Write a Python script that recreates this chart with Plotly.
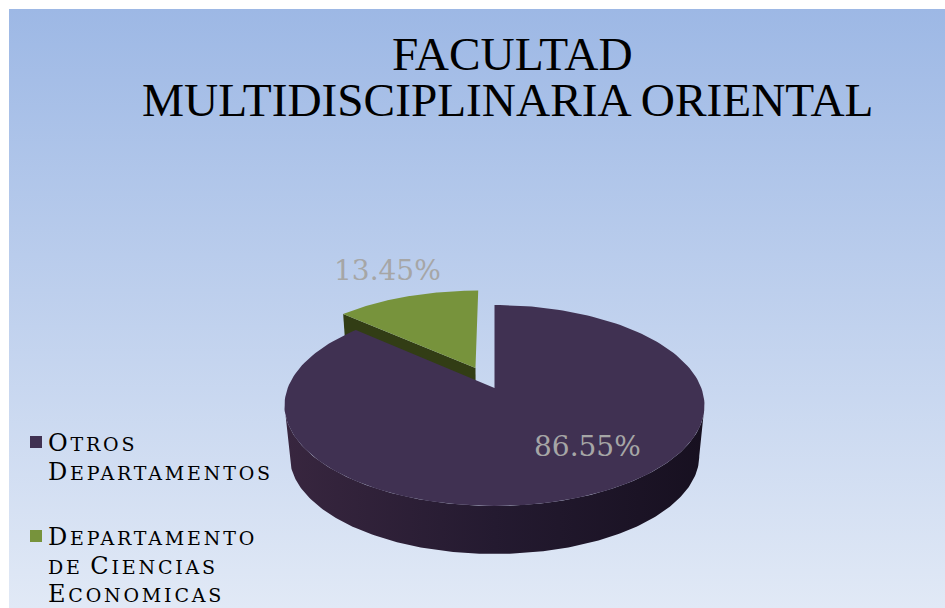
import numpy as np
import plotly.graph_objects as go

# data
departments = ["Otros Departamentos", "Departamento de Ciencias Economicas"]
shares = [86.55, 13.45]
legend_lines = [["Otros", "Departamentos"], ["Departamento", "de Ciencias", "Economicas"]]
title_lines = ["FACULTAD", "MULTIDISCIPLINARIA ORIENTAL"]

# pie drawn in page pixels, with a perspective tilt
PIE_X, PIE_Y = 494.5, 388
RADIUS_X, RADIUS_Y = 206.8, 97.4
TILT = 0.174
DEPTH = 51
BOTTOM_SCALE = 0.975
EXPLODE = 0.2325

PURPLE = "#403152"
GREEN = "#77933c"
GREEN_SIDE = "#323d15"
LABEL_GREY = "#a6a6a6"
SERIF = "DejaVu Serif"


def project(u, v, bottom=False):
    x = RADIUS_X * u / (1 - TILT * v)
    y = RADIUS_Y * v / (1 - TILT * v)
    if bottom:
        return PIE_X + BOTTOM_SCALE * x, PIE_Y + DEPTH + BOTTOM_SCALE * y
    return PIE_X + x, PIE_Y + y


def rim(start, end, offset=(0, 0), bottom=False):
    # angles in degrees clockwise from the top of the pie
    theta = np.radians(np.linspace(start, end, 181))
    return project(np.sin(theta) + offset[0], -np.cos(theta) + offset[1], bottom)


main_end = shares[0] * 3.6
mid_green = np.radians((main_end + 360) / 2)
green_offset = (EXPLODE * np.sin(mid_green), -EXPLODE * np.cos(mid_green))

fig = go.Figure()

# page background
fig.add_trace(go.Scatter(
    x=[9, 945, 945, 9, 9], y=[9, 9, 608, 608, 9],
    mode="lines", line_width=0, fill="toself",
    fillgradient=dict(type="vertical", colorscale=[[0, "#e1e9f6"], [1, "#9db8e5"]]),
    hoverinfo="skip", showlegend=False,
))

# exploded green slice, behind the big one
ax, ay = project(*green_offset)
lx, ly = project(np.sin(np.radians(main_end)) + green_offset[0], -np.cos(np.radians(main_end)) + green_offset[1])
abx, aby = project(*green_offset, bottom=True)
lbx, lby = project(np.sin(np.radians(main_end)) + green_offset[0], -np.cos(np.radians(main_end)) + green_offset[1], bottom=True)
fig.add_trace(go.Scatter(
    x=[ax, lx, lbx, abx, ax], y=[ay, ly, lby, aby, ay],
    mode="lines", line_width=0, fill="toself", fillcolor=GREEN_SIDE,
    hoverinfo="skip", showlegend=False,
))
gx, gy = rim(main_end, 360, green_offset)
fig.add_trace(go.Scatter(
    x=[ax, *gx, ax], y=[ay, *gy, ay],
    mode="lines", line_width=0, fill="toself", fillcolor=GREEN,
    name=departments[1], showlegend=False,
))

# big slice: side wall then top
tx, ty = rim(100, 260)
bx, by = rim(100, 260, bottom=True)
fig.add_trace(go.Scatter(
    x=[*tx, *bx[::-1], tx[0]], y=[*ty, *by[::-1], ty[0]],
    mode="lines", line_width=0, fill="toself",
    fillgradient=dict(type="horizontal", colorscale=[[0, "#38263f"], [0.5, "#241a30"], [1, "#171020"]]),
    hoverinfo="skip", showlegend=False,
))
mx, my = rim(0, main_end)
fig.add_trace(go.Scatter(
    x=[PIE_X, *mx, PIE_X], y=[PIE_Y, *my, PIE_Y],
    mode="lines", line_width=0, fill="toself", fillcolor=PURPLE,
    name=departments[0], showlegend=False,
))

# legend squares
fig.add_trace(go.Scatter(
    x=[36, 36], y=[442, 536], mode="markers",
    marker=dict(symbol="square", size=12, color=[PURPLE, GREEN]),
    hoverinfo="skip", showlegend=False,
))

annotations = []


def add_text(text, x, y, size, color="#000000", family=SERIF, anchor="center", textcase="normal"):
    annotations.append(dict(
        x=x, y=y, xref="x", yref="y", text=text, showarrow=False,
        xanchor=anchor, yanchor="middle",
        font=dict(family=family, size=size, color=color, textcase=textcase),
    ))


def small_caps(line, spacing=2.8, small=19):
    # first letter of a capitalised word stays full size, as in the legend
    words = []
    for word in line.split(" "):
        head = word[0] if word[0].isupper() else ""
        tail = word[len(head):]
        part = f'<span style="letter-spacing:{spacing}px;font-size:{small}px">{tail}</span>'
        if head:
            part = f'<span style="letter-spacing:{spacing}px">{head}</span>' + part
        words.append(part)
    return " ".join(words)


add_text(title_lines[0], 512.5, 54, 47.3, family="Liberation Serif")
add_text(title_lines[1], 507.5, 100, 47.3, family="Liberation Serif")
add_text(f"{shares[0]:.2f}%", 587, 446, 28, LABEL_GREY)
add_text(f"{shares[1]:.2f}%", 387, 270, 28, LABEL_GREY)

legend_y = [[443, 472], [537, 566, 594]]
for lines, rows in zip(legend_lines, legend_y):
    for line, row in zip(lines, rows):
        add_text(small_caps(line), 46, row, 24, anchor="left", textcase="upper")

fig.update_layout(
    width=945,
    height=608,
    margin=dict(l=0, r=0, t=0, b=0),
    paper_bgcolor="white",
    plot_bgcolor="rgba(0,0,0,0)",
    showlegend=False,
    annotations=annotations,
)
fig.update_xaxes(visible=False, range=[0, 945], fixedrange=True)
fig.update_yaxes(visible=False, range=[608, 0], fixedrange=True)

# page margin would push the fixed size figure off by 8px
fig.write_html(
    "out.html",
    config={"displayModeBar": False},
    post_script="document.body.style.margin='0';document.documentElement.style.overflow='hidden';",
)
